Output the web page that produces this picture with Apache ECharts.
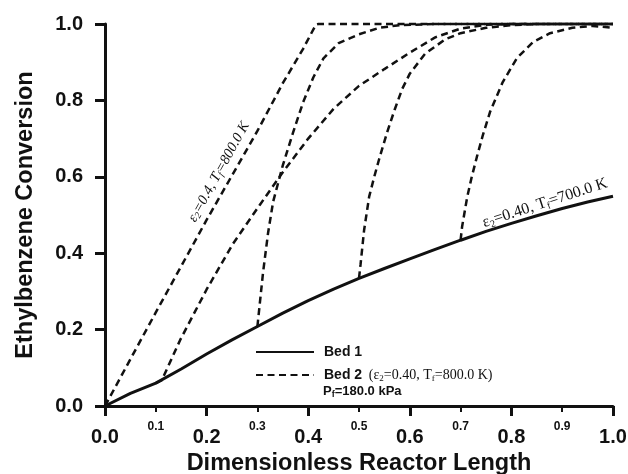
<!DOCTYPE html>
<html>
<head>
<meta charset="utf-8">
<script src="https://cdn.jsdelivr.net/npm/echarts@6/dist/echarts.min.js"></script>
<style>
  html, body { margin: 0; padding: 0; background: #ffffff; }
  #chart { width: 628px; height: 474px; }
</style>
</head>
<body>
<div id="chart"></div>
<script>
// Conversion profiles: [dimensionless length, ethylbenzene conversion]

// Bed 1 (single bed run along the whole reactor)
const bed1 = [
  [0.00, 0.000], [0.05, 0.033], [0.10, 0.060], [0.15, 0.097], [0.20, 0.136],
  [0.25, 0.173], [0.30, 0.208], [0.35, 0.243], [0.40, 0.276], [0.45, 0.306],
  [0.50, 0.334], [0.55, 0.360], [0.60, 0.385], [0.65, 0.410], [0.70, 0.434],
  [0.75, 0.457], [0.80, 0.478], [0.85, 0.498], [0.90, 0.517], [0.95, 0.534],
  [1.00, 0.549]
];

// Bed 2 switched in at length 0.0
const bed2At00 = [
  [0.00, 0.000], [0.10, 0.245], [0.20, 0.487], [0.30, 0.720], [0.35, 0.845],
  [0.39, 0.935], [0.415, 0.998], [0.42, 1.000], [1.00, 1.000]
];

// Bed 2 switched in at length 0.1
const bed2At01 = [
  [0.10, 0.060], [0.112, 0.068], [0.148, 0.173], [0.20, 0.305], [0.252, 0.425],
  [0.305, 0.527], [0.35, 0.612], [0.40, 0.700], [0.45, 0.778], [0.50, 0.838],
  [0.55, 0.882], [0.60, 0.925], [0.65, 0.965], [0.70, 0.988], [0.75, 0.998],
  [0.80, 1.000], [1.00, 1.000]
];

// Bed 2 switched in at length 0.3
const bed2At03 = [
  [0.30, 0.208], [0.311, 0.348], [0.321, 0.453], [0.331, 0.535], [0.35, 0.630],
  [0.37, 0.715], [0.39, 0.795], [0.41, 0.860], [0.43, 0.910], [0.46, 0.950],
  [0.50, 0.973], [0.54, 0.990], [0.58, 0.997], [0.65, 1.000], [1.00, 1.000]
];

// Bed 2 switched in at length 0.5
const bed2At05 = [
  [0.50, 0.334], [0.503, 0.370], [0.51, 0.460], [0.52, 0.548], [0.53, 0.600],
  [0.54, 0.648], [0.555, 0.715], [0.57, 0.775], [0.585, 0.830], [0.60, 0.870],
  [0.63, 0.922], [0.67, 0.960], [0.70, 0.976], [0.75, 0.990], [0.80, 0.997],
  [0.85, 1.000], [1.00, 1.000]
];

// Bed 2 switched in at length 0.7
const bed2At07 = [
  [0.70, 0.434], [0.703, 0.470], [0.713, 0.547], [0.722, 0.600], [0.732, 0.652],
  [0.744, 0.710], [0.758, 0.770], [0.783, 0.848], [0.811, 0.911], [0.843, 0.953],
  [0.876, 0.976], [0.92, 0.990], [0.96, 0.995], [1.00, 0.990]
];

// Axis scale
const axisMin = 0;
const axisMax = 1;
const majorStep = 0.2;
const minorStep = 0.1;

const INK = '#111111';
const SANS = '"Liberation Sans", Arial, Helvetica, sans-serif';
const SERIF = '"Liberation Serif", "Times New Roman", serif';

const chart = echarts.init(document.getElementById('chart'), null, { renderer: 'canvas' });

const fmt = v => v.toFixed(1);
const isOddTenth = v => Math.round(v * 10) % 2 === 1;

const subRich = {
  p:  { fontFamily: SERIF, fontSize: 14, color: INK, lineHeight: 16 },
  s:  { fontFamily: SERIF, fontSize: 9,  color: INK, lineHeight: 6, verticalAlign: 'bottom' },
  q:  { fontFamily: SERIF, fontSize: 16, color: INK, lineHeight: 18 },
  qs: { fontFamily: SERIF, fontSize: 10, color: INK, lineHeight: 7, verticalAlign: 'bottom' },
  pi: { fontFamily: SERIF, fontSize: 14.5, fontStyle: 'italic', color: INK, lineHeight: 16 },
  si: { fontFamily: SERIF, fontSize: 9.5, fontStyle: 'italic', color: INK, lineHeight: 6, verticalAlign: 'bottom' },
  b:  { fontFamily: SANS, fontSize: 14, fontWeight: 'bold', color: INK, lineHeight: 16 },
  bs: { fontFamily: SANS, fontSize: 9,  fontWeight: 'bold', color: INK, lineHeight: 6, verticalAlign: 'bottom' },
  bp: { fontFamily: SANS, fontSize: 13, fontWeight: 'bold', color: INK, lineHeight: 16 }
};

function bed2Series(data) {
  return {
    type: 'line',
    name: 'Bed 2',
    data: data,
    symbol: 'none',
    smooth: false,
    clip: false,
    itemStyle: { color: INK },
    lineStyle: { color: INK, width: 2.5, type: [7, 4.5] },
    z: 2
  };
}

const option = {
  backgroundColor: '#ffffff',
  animation: false,
  textStyle: { fontFamily: SANS, color: INK },
  grid: { left: 105, right: 15, top: 24, bottom: 68, containLabel: false, outerBoundsMode: 'none' },
  xAxis: [
    {
      type: 'value', min: axisMin, max: axisMax, interval: majorStep, position: 'bottom',
      axisLine: { show: true, lineStyle: { color: INK, width: 3 } },
      axisTick: { show: true, inside: false, length: 10, lineStyle: { color: INK, width: 3 } },
      axisLabel: { fontSize: 20, fontWeight: 'bold', color: INK, fontFamily: SANS, margin: 21, formatter: fmt },
      splitLine: { show: false },
      name: 'Dimensionless Reactor Length',
      nameLocation: 'middle',
      nameGap: 45,
      nameTextStyle: { fontSize: 23.5, fontWeight: 'bold', color: INK, fontFamily: SANS }
    },
    {
      type: 'value', min: axisMin, max: axisMax, interval: minorStep, position: 'bottom',
      axisLine: { show: false },
      axisTick: { show: true, inside: false, length: 6, lineStyle: { color: INK, width: 2 } },
      axisLabel: {
        fontSize: 12, fontWeight: 'bold', color: INK, fontFamily: SANS, margin: 15,
        formatter: v => (isOddTenth(v) ? fmt(v) : '')
      },
      splitLine: { show: false }
    }
  ],
  yAxis: {
    type: 'value', min: axisMin, max: axisMax, interval: majorStep,
    axisLine: { show: true, lineStyle: { color: INK, width: 3 } },
    axisTick: { show: true, inside: false, length: 10, lineStyle: { color: INK, width: 3 } },
    axisLabel: { fontSize: 20, fontWeight: 'bold', color: INK, fontFamily: SANS, margin: 22, formatter: fmt },
    splitLine: { show: false },
    name: 'Ethylbenzene Conversion',
    nameLocation: 'middle',
    nameGap: 67,
    nameTextStyle: { fontSize: 23.5, fontWeight: 'bold', color: INK, fontFamily: SANS }
  },
  legend: {
    orient: 'vertical',
    left: 255,
    top: 345,
    padding: 0,
    itemWidth: 58,
    itemHeight: 14,
    itemGap: 9,
    selectedMode: false,
    itemStyle: { opacity: 0 },
    data: ['Bed 1', 'Bed 2'],
    textStyle: { color: INK, padding: [0, 0, 0, 5], rich: subRich },
    formatter: name => name === 'Bed 2'
      ? '{b|Bed 2}  {p|(ε}{s|2}{p|=0.40, T}{s|f}{p|=800.0 K)}'
      : '{b|Bed 1}'
  },
  series: [
    {
      type: 'line',
      name: 'Bed 1',
      data: bed1,
      symbol: 'none',
      smooth: false,
      clip: false,
      itemStyle: { color: INK },
      lineStyle: { color: INK, width: 3, type: 'solid' },
      z: 3
    },
    bed2Series(bed2At00),
    bed2Series(bed2At01),
    bed2Series(bed2At03),
    bed2Series(bed2At05),
    bed2Series(bed2At07)
  ],
  graphic: [
    {
      type: 'text', x: 219, y: 172, rotation: 61 * Math.PI / 180, z: 10,
      style: {
        text: '{pi|ε}{si|2}{pi|=0.4, T}{si|f}{pi|=800.0 K}',
        rich: subRich, align: 'center', verticalAlign: 'middle', fill: INK
      }
    },
    {
      type: 'text', x: 545, y: 203, rotation: 18 * Math.PI / 180, z: 10,
      style: {
        text: '{q|ε}{qs|2}{q|=0.40, T}{qs|f}{q|=700.0 K}',
        rich: subRich, align: 'center', verticalAlign: 'middle', fill: INK
      }
    },
    {
      type: 'text', x: 323, y: 391, z: 10,
      style: {
        text: '{bp|P}{bs|f}{bp|=180.0 kPa}',
        rich: subRich, align: 'left', verticalAlign: 'middle', fill: INK
      }
    }
  ]
};

chart.setOption(option);
</script>
</body>
</html>
